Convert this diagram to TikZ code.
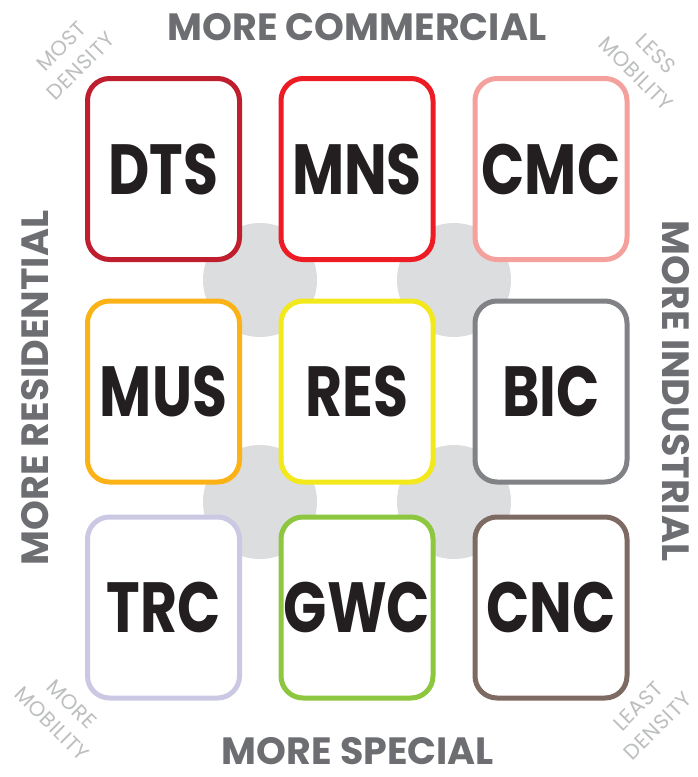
\documentclass[tikz,border=0pt]{standalone}
\usepackage{fontspec}
\setmainfont{Poppins}
\definecolor{axisgray}{HTML}{6D6E71}
\definecolor{cornergray}{HTML}{BCBEC0}
\definecolor{hubgray}{HTML}{DCDDDE}
\definecolor{inkblack}{HTML}{231F20}
\definecolor{cDTS}{HTML}{BE1E2D}
\definecolor{cMNS}{HTML}{ED1C24}
\definecolor{cCMC}{HTML}{F4A09C}
\definecolor{cMUS}{HTML}{FBB216}
\definecolor{cRES}{HTML}{F2E81B}
\definecolor{cBIC}{HTML}{808285}
\definecolor{cTRC}{HTML}{CBC8E4}
\definecolor{cGWC}{HTML}{8DC63F}
\definecolor{cCNC}{HTML}{7D6A62}
\begin{document}
\begin{tikzpicture}[x=1pt,y=-1pt,
  zone/.style={draw=#1, fill=white, line width=5pt, rounded corners=22pt,
    minimum width=152pt, minimum height=181pt, inner sep=0pt,
    text=inkblack, font=\fontsize{71}{71}\selectfont\bfseries},
  hub/.style={circle, fill=hubgray, minimum size=114pt, inner sep=0pt},
  axislabel/.style={text=axisgray, font=\fontsize{38}{38}\selectfont\bfseries,
    inner sep=0pt, text height=27pt, text depth=0pt},
  cornerlabel/.style={text=cornergray, align=center, inner sep=0pt,
    font=\fontsize{21}{28}\selectfont\addfontfeature{LetterSpace=3}}]
\useasboundingbox (0,0) rectangle (698,777);
\fill[white] (0,0) rectangle (698,777);

% grey hubs between the zone tiles
\node[hub] (h1) at (260,280) {};
\node[hub] (h2) at (454,280) {};
\node[hub] (h3) at (260,502) {};
\node[hub] (h4) at (454,502) {};

% zone tiles
\node[zone=cDTS] (dts) at (163.5,169) {\scalebox{0.8}[1]{DTS}};
\node[zone=cMNS] (mns) at (357,169) {\scalebox{0.8}[1]{MNS}};
\node[zone=cCMC] (cmc) at (551,169) {\scalebox{0.8}[1]{CMC}};
\node[zone=cMUS] (mus) at (163.5,391.5) {\scalebox{0.8}[1]{MUS}};
\node[zone=cRES] (res) at (357,391.5) {\scalebox{0.8}[1]{RES}};
\node[zone=cBIC] (bic) at (551,391.5) {\scalebox{0.8}[1]{BIC}};
\node[zone=cTRC] (trc) at (163.5,607.5) {\scalebox{0.8}[1]{TRC}};
\node[zone=cGWC] (gwc) at (357,607.5) {\scalebox{0.8}[1]{GWC}};
\node[zone=cCNC] (cnc) at (551,607.5) {\scalebox{0.8}[1]{CNC}};

% axis labels
\node[axislabel] (top) at (357,27) {MORE COMMERCIAL};
\node[axislabel] (bottom) at (358,751) {MORE SPECIAL};
\node[axislabel, rotate=90] (left) at (35,388) {MORE RESIDENTIAL};
\node[axislabel, rotate=-90] (right) at (676,391) {MORE INDUSTRIAL};

% corner labels
\node[cornerlabel, rotate=45] (tl) at (71,56) {MOST\\DENSITY};
\node[cornerlabel, rotate=-45] (tr) at (646,64) {LESS\\MOBILITY};
\node[cornerlabel, rotate=-45] (bl) at (62,714) {MORE\\MOBILITY};
\node[cornerlabel, rotate=45] (br) at (648,716) {LEAST\\DENSITY};
\end{tikzpicture}
\end{document}
